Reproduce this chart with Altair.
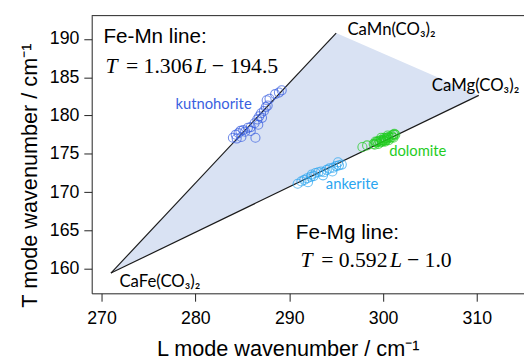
import altair as alt
import pandas as pd

# ---- data ----
x_ticks = [270, 280, 290, 300, 310]
y_ticks = [160, 165, 170, 175, 180, 185, 190]

fe_mn_slope, fe_mn_icpt = 1.306, -194.5
fe_mg_slope, fe_mg_icpt = 0.592, -1.0

comp_names = ["CaFe(CO₃)₂", "CaMn(CO₃)₂", "CaMg(CO₃)₂"]
comp_L = [271.0, 295.0, 310.2]

kut_L = [284.0, 284.3, 284.6, 284.4, 284.8, 285.1, 285.3, 284.9, 285.6, 285.9, 286.3, 286.6, 286.8,
         287.0, 287.1, 287.3, 286.7, 286.4, 287.5, 287.7, 287.6, 287.9, 288.5, 288.9, 289.2, 285.9]
kut_T = [177.1, 177.5, 177.7, 177.0, 178.0, 178.1, 177.9, 177.2, 178.4, 178.5, 179.0, 179.5, 179.9,
         180.3, 179.7, 180.6, 178.8, 177.1, 181.1, 181.3, 182.0, 182.2, 182.8, 183.0, 183.3, 178.0]

ank_L = [290.9, 291.3, 291.6, 291.9, 292.3, 292.6, 292.4, 292.8, 293.1, 293.4, 293.7, 294.0, 294.3,
         294.7, 295.0, 295.3, 295.6, 294.6, 293.6, 292.0, 295.2]
ank_T = [171.1, 171.4, 171.6, 171.8, 172.0, 172.1, 172.3, 172.5, 172.6, 172.7, 172.6, 172.9, 173.1,
         173.2, 173.4, 173.5, 173.6, 172.7, 172.2, 171.3, 173.9]

dol_L = [297.8, 298.3, 299.0, 299.2, 299.4, 299.6, 299.8, 300.0, 300.2, 300.4, 300.6, 300.9, 301.1,
         301.2, 299.7, 299.9, 300.1, 300.3, 300.5, 300.8, 301.0, 299.5, 299.3, 300.1, 300.5, 299.1,
         299.8, 300.2, 300.6, 301.1, 301.3]
dol_T = [175.9, 176.1, 176.3, 176.6, 176.6, 176.7, 176.8, 176.8, 177.0, 177.1, 177.2, 177.4, 177.5,
         177.6, 176.5, 176.6, 176.7, 176.8, 177.0, 177.1, 177.2, 176.3, 176.5, 177.1, 177.4, 176.2,
         177.1, 176.6, 176.8, 177.1, 177.5]

minerals = ["kutnohorite", "ankerite", "dolomite"]
mineral_colors = ["#3a5fe0", "#2aa5f0", "#1fcc1f"]

# annotation texts
mineral_label_L = [286.0, 293.9, 300.65]
mineral_label_T = [181.5, 171.0, 175.3]
comp_label_L = [271.9, 296.2, 305.2]
comp_label_T = [158.2, 191.2, 183.8]
head_texts = ["Fe-Mn line:", "Fe-Mg line:"]
head_L = [270.2, 290.7]
head_T = [190.2, 164.6]
eq_pieces = ["T", "= 1.306", "L", "− 194.5", "T", "= 0.592", "L", "− 1.0"]
eq_italic = [True, False, True, False, True, False, True, False]
eq_L = [270.42, 272.6, 279.95, 281.75, 291.2, 293.4, 300.75, 302.55]
eq_T = [186.5, 186.5, 186.5, 186.5, 161.1, 161.1, 161.1, 161.1]


def fe_mn(L):
    return fe_mn_slope * L + fe_mn_icpt


def fe_mg(L):
    return fe_mg_slope * L + fe_mg_icpt


# ---- tables ----
upper = [fe_mg(comp_L[0]), fe_mn(comp_L[1]), fe_mg(comp_L[2])]
lower = [fe_mg(L) for L in comp_L]
tri = pd.DataFrame({"L": comp_L, "upper": upper, "lower": lower})

lines = pd.DataFrame({
    "line": ["Fe-Mn", "Fe-Mn", "Fe-Mg", "Fe-Mg"],
    "L": [comp_L[0], comp_L[1], comp_L[0], comp_L[2]],
    "T": [fe_mg(comp_L[0]), fe_mn(comp_L[1]), fe_mg(comp_L[0]), fe_mg(comp_L[2])],
})

pts = pd.concat([
    pd.DataFrame({"L": kut_L, "T": kut_T, "mineral": "kutnohorite"}),
    pd.DataFrame({"L": ank_L, "T": ank_T, "mineral": "ankerite"}),
    pd.DataFrame({"L": dol_L, "T": dol_T, "mineral": "dolomite"}),
])

mlab = pd.DataFrame({"L": mineral_label_L, "T": mineral_label_T, "mineral": minerals})
clab = pd.DataFrame({"L": comp_label_L, "T": comp_label_T, "text": comp_names})
hlab = pd.DataFrame({"L": head_L, "T": head_T, "text": head_texts})
eq = pd.DataFrame({"L": eq_L, "T": eq_T, "text": eq_pieces, "italic": eq_italic})

W, H = 439, 282
xs = alt.Scale(domain=[268.95, 315.02], nice=False, zero=False)
ys = alt.Scale(domain=[156.79, 193.05], nice=False, zero=False)
cs = alt.Scale(domain=minerals, range=mineral_colors)

xaxis = alt.Axis(
    title="L mode wavenumber  / cm⁻¹", values=x_ticks, grid=False, tickSize=8,
    tickColor="#222", domainColor="#222", tickWidth=1, domainWidth=1,
    labelFont="Liberation Sans", labelFontSize=18, labelColor="black", labelPadding=9,
    titleFont="Liberation Sans", titleFontSize=22, titleFontWeight="normal", titleColor="black",
    titleX=199, titleY=56, titleAlign="center", titleBaseline="middle",
)
yaxis = alt.Axis(
    title="T mode wavenumber / cm⁻¹", values=y_ticks, grid=False, tickSize=8,
    tickColor="#222", domainColor="#222", tickWidth=1, domainWidth=1,
    labelFont="Liberation Sans", labelFontSize=18, labelColor="black", labelPadding=5,
    titleFont="Liberation Sans", titleFontSize=22, titleFontWeight="normal", titleColor="black",
    titleX=-63, titleY=162, titleAlign="center", titleBaseline="middle", titleAngle=270,
)

X = alt.X("L:Q", scale=xs, axis=xaxis)
Y = alt.Y("T:Q", scale=ys, axis=yaxis)

area = alt.Chart(tri).mark_area(color="#d9e2f3", opacity=1).encode(
    x=alt.X("L:Q", scale=xs, axis=xaxis),
    y=alt.Y("upper:Q", scale=ys, axis=yaxis),
    y2="lower:Q",
)

line_layer = alt.Chart(lines).mark_line(color="#1a1a1a", strokeWidth=1.2).encode(
    x=X, y=Y, detail="line:N"
)

points = alt.Chart(pts).mark_point(filled=False, size=85, strokeWidth=1.1, shape="circle").encode(
    x=X, y=Y, color=alt.Color("mineral:N", scale=cs, legend=None)
)

kut_text = alt.Chart(mlab[mlab.mineral == "kutnohorite"]).mark_text(
    font="Lato", fontSize=15, align="right", baseline="middle"
).encode(x=X, y=Y, text="mineral:N", color=alt.Color("mineral:N", scale=cs, legend=None))

other_text = alt.Chart(mlab[mlab.mineral != "kutnohorite"]).mark_text(
    font="Lato", fontSize=15, align="left", baseline="middle"
).encode(x=X, y=Y, text="mineral:N", color=alt.Color("mineral:N", scale=cs, legend=None))

comp_text = alt.Chart(clab).mark_text(
    font="Lato", fontSize=17, align="left", baseline="middle", color="black"
).encode(x=X, y=Y, text="text:N")

head_text = alt.Chart(hlab).mark_text(
    font="Liberation Sans", fontSize=21, align="left", baseline="middle", color="black"
).encode(x=X, y=Y, text="text:N")

eq_it = alt.Chart(eq[eq.italic]).mark_text(
    font="Liberation Serif", fontSize=22, fontStyle="italic", align="left", baseline="middle",
    color="black"
).encode(x=X, y=Y, text="text:N")

eq_up = alt.Chart(eq[~eq.italic]).mark_text(
    font="Liberation Serif", fontSize=22, align="left", baseline="middle", color="black"
).encode(x=X, y=Y, text="text:N")

top_border = alt.Chart(pd.DataFrame({"k": [0]})).mark_rule(color="#222", strokeWidth=1).encode(
    x=alt.value(0), x2=alt.value(W), y=alt.value(0)
)

chart = alt.layer(
    area, line_layer, points, kut_text, other_text, comp_text, head_text, eq_it, eq_up, top_border
).properties(
    width=W, height=H,
    autosize=alt.AutoSizeParams(type="none"),
    padding={"left": 85, "top": 5, "right": 0, "bottom": 67},
).configure_view(stroke="transparent")

chart.save("out.html", embed_options={"renderer": "svg", "actions": False})
